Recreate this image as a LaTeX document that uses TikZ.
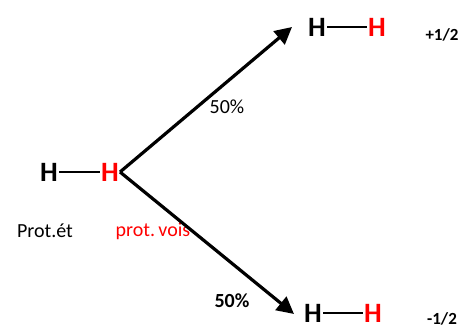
\documentclass[tikz,border=0pt]{standalone}
\usepackage{fontspec}
\setmainfont{Carlito}
\usepackage{xcolor}
\usetikzlibrary{positioning,arrows.meta}

\begin{document}
\begin{tikzpicture}[x=1pt, y=-1pt,
  atomH/.style={font=\fontsize{28}{28}\selectfont\bfseries, inner sep=1pt},
  bond/.style={line width=1.3pt},
  split/.style={line width=3.2pt, -{Triangle[length=17pt,width=17pt]}},
  spin/.style={font=\fontsize{17}{17}\selectfont\bfseries},
  lbl/.style={font=\fontsize{20}{20}\selectfont}]
  \useasboundingbox (0,0) rectangle (465,329);

  % Starting molecule
  \node[atomH] (hA) at (49,172) {H};
  \node[atomH, text=red] (hB) at (110,172) {H};
  \draw[bond] (hA.east) -- (hB.west);

  % Labels under the molecule
  \node[lbl] (protEt) at (45,231) {Prot.ét};
  \node[lbl, text=red] (protVois) at (153,231) {prot.\,vois};

  % Upper state
  \node[atomH] (tA) at (317,27) {H};
  \node[atomH, text=red] (tB) at (377,27) {H};
  \draw[bond] (tA.east) -- (tB.west);
  \node[spin] (tSpin) at (442,35) {+1/2};

  % Lower state
  \node[atomH] (bA) at (313,313) {H};
  \node[atomH, text=red] (bB) at (373,313) {H};
  \draw[bond] (bA.east) -- (bB.west);
  \node[spin] (bSpin) at (442,319) {-1/2};

  % Splitting arrows
  \coordinate (upEnd) at (292,27);
  \coordinate (downEnd) at (294,314);
  \draw[split] (hB.east) -- (upEnd);
  \draw[split] (hB.east) -- (downEnd);
  \node[lbl] (upPct) at (227,107) {50\%};
  \node[lbl, font=\fontsize{20}{20}\selectfont\bfseries] (downPct) at (232,301) {50\%};
\end{tikzpicture}
\end{document}
